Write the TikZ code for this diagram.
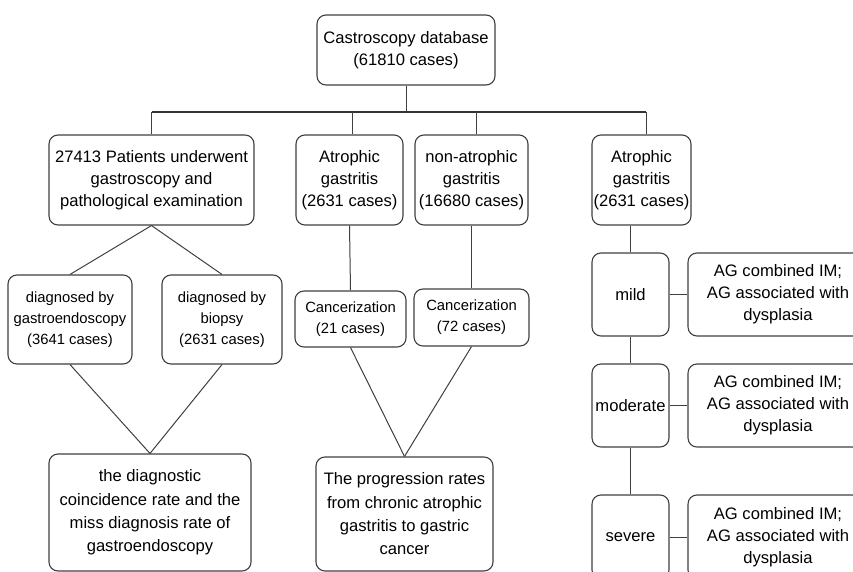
\documentclass[tikz,border=0pt]{standalone}
\usepackage{fontspec}
\setmainfont{Liberation Sans}
\begin{document}
\begin{tikzpicture}[x=1pt,y=-1pt,
  box/.style={draw=black!75,line width=1.1pt,rounded corners=9pt,inner sep=0pt,align=center,
    font=\fontsize{16.6}{21.8}\selectfont},
  smallbox/.style={box,font=\fontsize{14.8}{21.3}\selectfont},
  bigbox/.style={box,font=\fontsize{16.6}{23.3}\selectfont},
  link/.style={draw=black!75,line width=1pt},
  bus/.style={draw=black!80,line width=2.2pt}]
\useasboundingbox (0,0) rectangle (853,572);
\clip (0,0) rectangle (853,572);
\fill[white] (0,0) rectangle (853,572);
% top
\node[box,minimum width=178pt,minimum height=70pt] (top) at (406,50) {Castroscopy database\\(61810 cases)};
% row 2
\node[box,minimum width=205pt,minimum height=90pt] (A) at (151.5,180) {27413 Patients underwent\\gastroscopy and\\pathological examination};
\node[box,minimum width=107pt,minimum height=90pt] (B) at (349.5,180) {Atrophic\\gastritis\\(2631 cases)};
\node[box,minimum width=113pt,minimum height=90pt] (C) at (471.5,180) {non-atrophic\\gastritis\\(16680 cases)};
\node[box,minimum width=99pt,minimum height=90pt] (D) at (641.5,180) {Atrophic\\gastritis\\(2631 cases)};
% row 3
\node[smallbox,minimum width=124pt,minimum height=89pt] (E) at (70,319.5) {diagnosed by\\gastroendoscopy\\(3641 cases)};
\node[smallbox,minimum width=120pt,minimum height=89pt] (F) at (222,319.5) {diagnosed by\\biopsy\\(2631 cases)};
\node[smallbox,minimum width=111pt,minimum height=56pt] (G) at (350.5,319) {Cancerization\\(21 cases)};
\node[smallbox,minimum width=115pt,minimum height=57pt] (H) at (471.5,317.5) {Cancerization\\(72 cases)};
% bottom
\node[bigbox,minimum width=202pt,minimum height=117pt] (I) at (150,512.5) {the diagnostic\\coincidence rate and the\\miss diagnosis rate of\\gastroendoscopy};
\node[bigbox,minimum width=177pt,minimum height=114pt] (J) at (404.5,514) {The progression rates\\from chronic atrophic\\gastritis to gastric\\cancer};
% right column
\node[box,minimum width=77pt,minimum height=83pt] (mild) at (630.5,294.5) {mild};
\node[box,minimum width=77pt,minimum height=83pt] (moderate) at (630.5,405.5) {moderate};
\node[box,minimum width=77pt,minimum height=84pt] (severe) at (630.5,537) {severe};
\node[box,minimum width=180pt,minimum height=83pt] (AG1) at (778,294.5) {AG combined IM;\\AG associated with\\dysplasia};
\node[box,minimum width=180pt,minimum height=83pt] (AG2) at (778,405.5) {AG combined IM;\\AG associated with\\dysplasia};
\node[box,minimum width=180pt,minimum height=84pt] (AG3) at (778,537) {AG combined IM;\\AG associated with\\dysplasia};
% connectors
\coordinate (busy) at (0,112);
\draw[link] (top.south) -- (top.south |- busy);
\draw[bus] (A.north |- busy) -- ([xshift=4.5pt]D.north |- busy);
\draw[link] (A.north |- busy) -- (A.north);
\draw[link] ([xshift=3pt]B.north |- busy) -- ([xshift=3pt]B.north);
\draw[link] ([xshift=4.5pt]C.north |- busy) -- ([xshift=4.5pt]C.north);
\draw[link] ([xshift=4.5pt]D.north |- busy) -- ([xshift=4.5pt]D.north);
\draw[link] (A.south) -- (E.north);
\draw[link] (A.south) -- (F.north);
\draw[link] (E.south) -- (I.north);
\draw[link] (F.south) -- (I.north);
\draw[link] (B.south) -- (G.north);
\draw[link] (C.south) -- (H.north);
\draw[link] (G.south) -- (J.north);
\draw[link] (H.south) -- (J.north);
\draw[link] (mild.north |- D.south) -- (mild.north);
\draw[link] (mild.south) -- (moderate.north);
\draw[link] (moderate.south) -- (severe.north);
\draw[link] (mild.east) -- (AG1.west);
\draw[link] (moderate.east) -- (AG2.west);
\draw[link] (severe.east) -- (AG3.west);
\end{tikzpicture}
\end{document}
